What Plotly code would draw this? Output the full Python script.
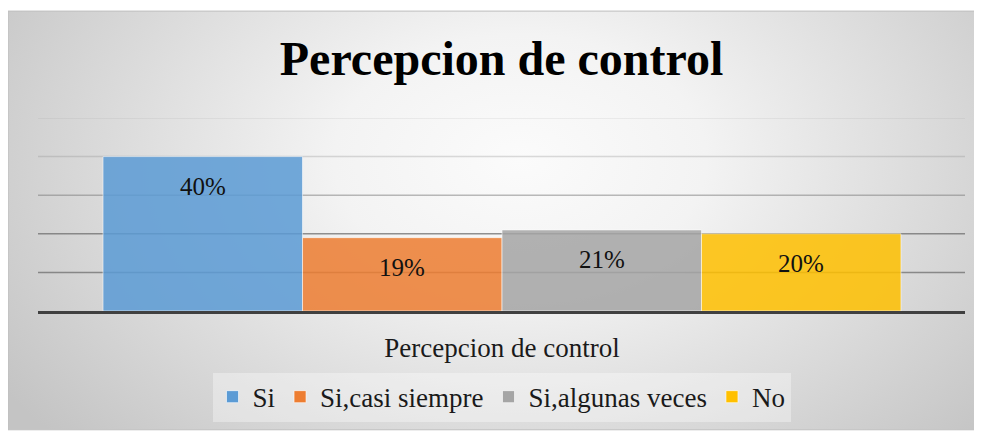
import base64
import plotly.graph_objects as go

# data
categories = ['Si', 'Si,casi siempre', 'Si,algunas veces', 'No']
values = [0.40, 0.19, 0.21, 0.20]
labels = ['40%', '19%', '21%', '20%']
axis_category = 'Percepcion de control'
colors = ['#5B9BD5', '#ED7D31', '#A5A5A5', '#FFC000']

# page body adds 8px, so figure is a bit smaller than the window
W, H = 974, 425
ml, mr, mt, mb = 30, 17, 110, 120
pw, ph = W - ml - mr, H - mt - mb
serif = 'Liberation Serif, Times New Roman, serif'
frame_top = 2

# radial grey background as svg
svg = (
    '<svg xmlns="http://www.w3.org/2000/svg" width="974" height="423" viewBox="0 0 974 423" preserveAspectRatio="none">'
    '<defs><radialGradient id="g" gradientUnits="userSpaceOnUse" cx="512" cy="150" r="620" '
    'gradientTransform="translate(512 150) scale(1 0.68) translate(-512 -150)">'
    '<stop offset="0" stop-color="#fbfbfb"/><stop offset="0.3" stop-color="#f3f3f3"/>'
    '<stop offset="1" stop-color="#c4c4c4"/></radialGradient></defs>'
    '<rect width="974" height="423" fill="url(#g)"/></svg>'
)
bg_src = 'data:image/svg+xml;base64,' + base64.b64encode(svg.encode()).decode()

fig = go.Figure()
for i, (name, v, c) in enumerate(zip(categories, values, colors)):
    fig.add_trace(go.Bar(
        x=[i], y=[v], width=1, name=name,
        marker=dict(color=c, opacity=0.85, line=dict(color='rgba(255,255,255,0.6)', width=1)),
        hoverinfo='skip',
    ))

for i, (v, t) in enumerate(zip(values, labels)):
    fig.add_annotation(x=i, y=v, text=t, showarrow=False, yshift=-30, yanchor='middle',
                       font=dict(family=serif, size=25, color='#111'))

# gridlines fading towards the top
grid_vals = [0.1, 0.2, 0.3, 0.4, 0.5]
grid_cols = ['rgba(110,110,110,0.75)', 'rgba(110,110,110,0.75)', 'rgba(120,120,120,0.5)',
             'rgba(140,140,140,0.3)', 'rgba(150,150,150,0.18)']
for v, gc in zip(grid_vals, grid_cols):
    fig.add_shape(type='line', xref='paper', x0=0, x1=1, yref='y', y0=v, y1=v,
                  line=dict(color=gc, width=1.5), layer='below')

# frame
fx0, fx1 = -ml / pw, (W - ml) / pw
fy0, fy1 = -mb / ph, (ph + mt - frame_top) / ph
fig.add_shape(type='rect', xref='paper', yref='paper', x0=fx0, x1=fx1, y0=fy0, y1=fy1,
              line=dict(color='#bdbdbd', width=1), layer='below')

fig.add_layout_image(dict(
    source=bg_src, xref='paper', yref='paper',
    x=fx0, y=fy1, sizex=fx1 - fx0, sizey=fy1 - fy0,
    sizing='stretch', xanchor='left', yanchor='top', layer='below',
))

fig.update_layout(
    width=W, height=H,
    margin=dict(l=ml, r=mr, t=mt, b=mb),
    paper_bgcolor='white', plot_bgcolor='rgba(0,0,0,0)',
    barmode='overlay',
    title=dict(text='<b>Percepcion de control</b>', x=0.5, xref='paper', y=1 - 50 / H,
               yref='container', yanchor='middle', xanchor='center',
               font=dict(family=serif, size=48, color='black')),
    xaxis=dict(range=[-0.826, 3.821], tickvals=[1.5], ticktext=[axis_category],
               showgrid=False, zeroline=False, showline=True, linecolor='#404040', linewidth=3,
               ticks='', ticklabelstandoff=11, tickfont=dict(family=serif, size=27, color='#1a1a1a'),
               fixedrange=True),
    yaxis=dict(range=[0, 0.5], showgrid=False, zeroline=False, showticklabels=False, fixedrange=True),
    legend=dict(orientation='h', x=0.5, xanchor='center', xref='paper', y=(mt + ph - 392) / ph,
                yanchor='middle', bgcolor='rgba(255,255,255,0.35)',
                font=dict(family=serif, size=27, color='#1a1a1a'), itemwidth=30, traceorder='normal'),
    showlegend=True,
)

fig.write_html('out.html')
